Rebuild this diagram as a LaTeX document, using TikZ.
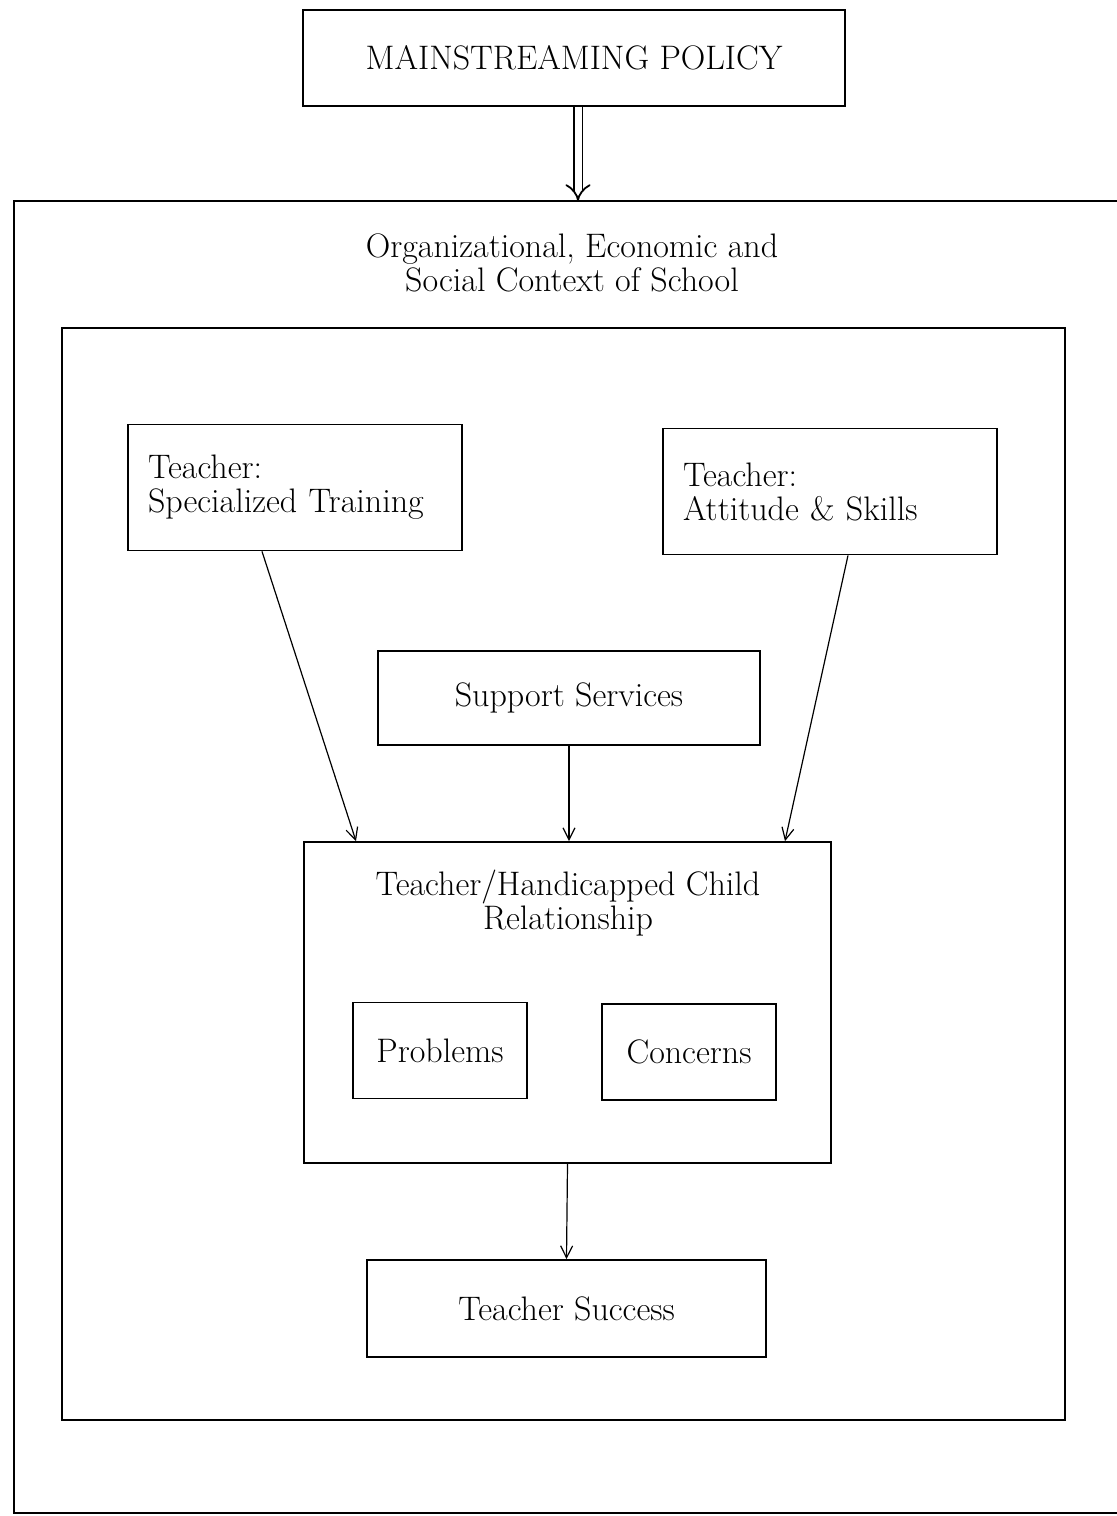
\documentclass[tikz,border=0pt]{standalone}
\usepackage{tikz}
\usetikzlibrary{arrows.meta}

\begin{document}
\begin{tikzpicture}[x=0.5pt,y=-0.5pt,>={Straight Barb[length=6pt,width=6pt]},
  semithick,font=\fontsize{17}{17}\selectfont]
  \tikzstyle{box}=[draw,line width=0.9pt,inner sep=0pt,align=center]
  \tikzstyle{teacher}=[box,align=left,text width=147pt,inner xsep=10pt,
    minimum height=63pt]
  \tikzstyle{small}=[box,minimum width=87pt,minimum height=48pt]

  \clip (0,0) rectangle (1117,1516);

  \node[box] (policy) at (574,58) [minimum width=271pt,minimum height=48pt]
    {MAINSTREAMING POLICY};

  % school context, its right side runs off the page
  \node[box,minimum width=563pt,minimum height=656pt] (context) at (577,857) {};
  \node[align=center] (contextlabel) at (572,263)
    {Organizational, Economic and\\Social Context of School};
  \node[box,minimum width=501.5pt,minimum height=546pt] (school) at (563.5,874) {};

  \node[teacher] (training) at (295,487.5) {Teacher:\\Specialized Training};
  \node[teacher] (attitude) at (830,491.5) {Teacher:\\Attitude \& Skills};
  \node[box,minimum width=191pt,minimum height=47pt] (support) at (569,698)
    {Support Services};

  \node[box,minimum width=263.5pt,minimum height=160.5pt] (relation) at (567.5,1002.5) {};
  \node[align=center] (reltitle) at (568,903)
    {Teacher/Handicapped Child\\Relationship};
  \node[small] (problems) at (440,1050.5) {Problems};
  \node[small] (concerns) at (689,1052) {Concerns};

  \node[box,minimum width=199.5pt,minimum height=48.5pt] (success) at (566.5,1308.5)
    {Teacher Success};

  \draw[double,double distance=3.5pt,line width=0.9pt,
    -{Implies[length=7pt,width=11pt]}]
    (policy.south -| 578,0) -- (578,201);
  \path[->] ([xshift=-16.5pt]training.south) edge ([xshift=-105.75pt]relation.north)
        (support.south) edge (support.south |- relation.north)
        ([xshift=9pt]attitude.south) edge ([xshift=108.75pt]relation.north)
        (relation.south) edge (success.north);
\end{tikzpicture}
\end{document}
